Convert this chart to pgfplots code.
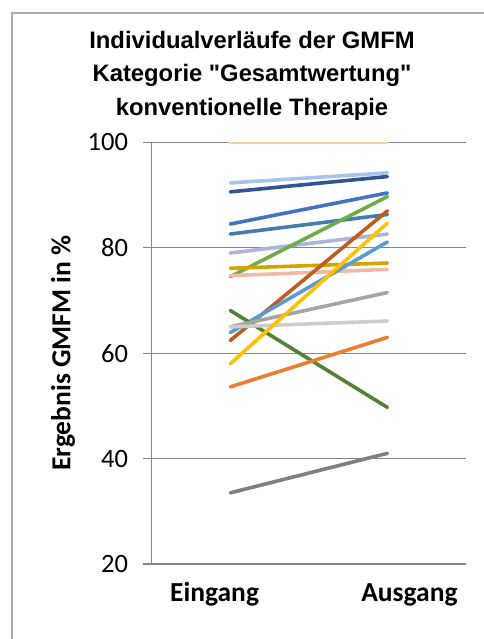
\documentclass[border=0pt]{standalone}
\usepackage{pgfplots}
\pgfplotsset{compat=1.18}
\usepackage{fontspec}
\setmainfont{Carlito}
\newfontfamily\titlefont{Liberation Sans}

% series colours
\definecolor{cPeach}{RGB}{248,208,155}
\definecolor{cPaleBlue}{RGB}{169,196,235}
\definecolor{cDarkBlue}{RGB}{47,85,151}
\definecolor{cBlue}{RGB}{68,114,196}
\definecolor{cGreen}{RGB}{112,173,71}
\definecolor{cSteel}{RGB}{70,124,175}
\definecolor{cBrown}{RGB}{192,92,32}
\definecolor{cYellow}{RGB}{255,192,0}
\definecolor{cLavender}{RGB}{170,180,220}
\definecolor{cSky}{RGB}{91,155,213}
\definecolor{cGold}{RGB}{212,163,0}
\definecolor{cSalmon}{RGB}{244,185,165}
\definecolor{cGray}{RGB}{165,165,165}
\definecolor{cLightGray}{RGB}{205,205,205}
\definecolor{cDarkGreen}{RGB}{84,130,53}
\definecolor{cOrange}{RGB}{237,125,49}
\definecolor{cDarkGray}{RGB}{128,128,128}
\definecolor{axisgray}{RGB}{134,134,134}
\definecolor{framegray}{RGB}{170,170,170}

\begin{document}
\begin{tikzpicture}
\path[use as bounding box] (0,0) rectangle (484bp,-639bp);
\draw[framegray, line width=1.2bp] (12bp,-639bp) -- (12bp,-13bp) -- (484bp,-13bp);

\begin{axis}[
  at={(151.7bp,-564bp)}, anchor=south west,
  scale only axis, width=314.3bp, height=421.7bp,
  xmin=-0.5, xmax=1.5, ymin=20, ymax=100,
  ytick={20,40,60,80,100},
  xtick={-0.1,1.14}, xticklabels={Eingang,Ausgang},
  axis x line*=bottom, axis y line*=left,
  axis line style={axisgray, line width=1.2bp},
  ymajorgrids, grid style={axisgray, line width=1.2bp},
  tick align=outside, major tick length=8.5bp,
  ytick style={axisgray, line width=1.2bp},
  xtick style={draw=none},
  /pgf/number format/assume math mode=true,
  yticklabel style={font=\fontsize{26.5bp}{30bp}\selectfont, anchor=east, inner sep=0pt, xshift=-15bp},
  xticklabel style={font=\bfseries\fontsize{27.5bp}{32bp}\selectfont, anchor=base, inner sep=0pt, yshift=-29.2bp},
  ylabel={Ergebnis GMFM in \%},
  ylabel style={font=\bfseries\fontsize{27.5bp}{32bp}\selectfont, at={(axis description cs:-0.282,0.5)}, anchor=center},
  every axis plot/.append style={line width=3.6bp, line cap=round, mark=none},
]
\addplot[cPeach]      coordinates {(0,100)  (1,100)};
\addplot[cPaleBlue]   coordinates {(0,92.3) (1,94.2)};
\addplot[cDarkBlue]   coordinates {(0,90.6) (1,93.5)};
\addplot[cBlue]       coordinates {(0,84.5) (1,90.4)};
\addplot[cSteel]      coordinates {(0,82.6) (1,86.3)};
\addplot[cLavender]   coordinates {(0,79.0) (1,82.6)};
\addplot[cGreen]      coordinates {(0,74.5) (1,89.7)};
\addplot[cGold]       coordinates {(0,76.1) (1,77.1)};
\addplot[cSalmon]     coordinates {(0,74.7) (1,75.9)};
\addplot[cBrown]      coordinates {(0,62.4) (1,87.0)};
\addplot[cSky]        coordinates {(0,63.9) (1,81.1)};
\addplot[cDarkGreen]  coordinates {(0,68.1) (1,49.7)};
\addplot[cGray]       coordinates {(0,65.0) (1,71.5)};
\addplot[cLightGray]  coordinates {(0,65.0) (1,66.1)};
\addplot[cYellow]     coordinates {(0,58.0) (1,84.7)};
\addplot[cOrange]     coordinates {(0,53.6) (1,63.0)};
\addplot[cDarkGray]   coordinates {(0,33.5) (1,41.0)};
\end{axis}

\node[anchor=base, font=\titlefont\bfseries\fontsize{23.8bp}{28bp}\selectfont] at (252bp,-48.3bp) {Individualverläufe der GMFM};
\node[anchor=base, font=\titlefont\bfseries\fontsize{23.8bp}{28bp}\selectfont] at (252bp,-81.3bp) {Kategorie "Gesamtwertung"};
\node[anchor=base, font=\titlefont\bfseries\fontsize{23.8bp}{28bp}\selectfont] at (252bp,-115bp) {konventionelle Therapie};
\end{tikzpicture}
\end{document}
